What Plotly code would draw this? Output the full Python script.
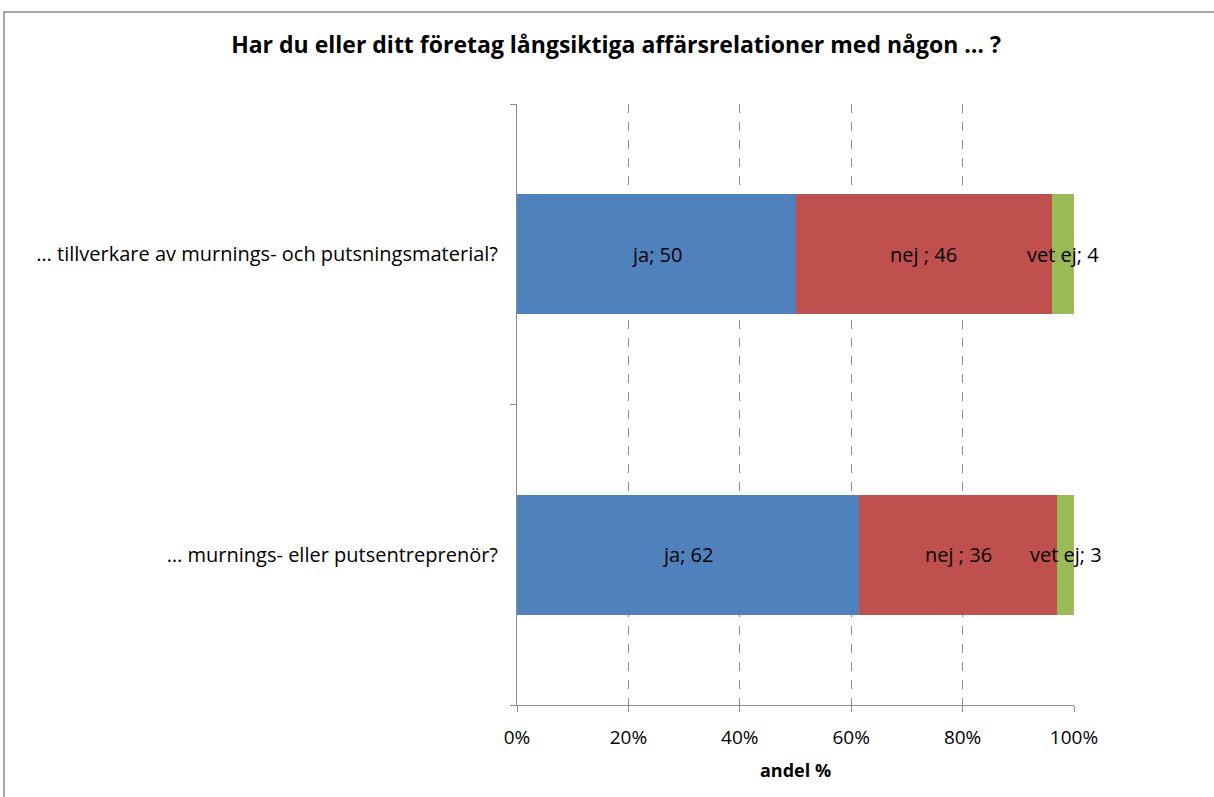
import plotly.graph_objects as go

categories = ["… tillverkare av murnings- och putsningsmaterial?", "… murnings- eller putsentreprenör?"]
series_names = ["ja", "nej ", "vet ej"]
ja = [50, 62]
nej = [46, 36]
vet_ej = [4, 3]
colors = ["#4F81BD", "#C0504D", "#9BBB59"]
x_ticks = [0, 20, 40, 60, 80, 100]
x_tick_labels = ["0%", "20%", "40%", "60%", "80%", "100%"]

series = [ja, nej, vet_ej]
font_family = "Open Sans"

fig = go.Figure()
for name, vals, col in zip(series_names, series, colors):
    fig.add_trace(go.Bar(
        y=categories, x=vals, name=name, orientation="h",
        marker=dict(color=col, line=dict(width=0)),
        showlegend=False, hoverinfo="x+y+name",
    ))

# data labels centred on each normalised segment
annotations = []
for i, cat in enumerate(categories):
    total = sum(s[i] for s in series)
    cum = 0
    for name, vals in zip(series_names, series):
        pct = vals[i] / total * 100
        mid = cum + pct / 2
        cum += pct
        annotations.append(dict(
            x=mid, y=cat, xref="x", yref="y", text=f"{name}; {vals[i]}",
            showarrow=False, font=dict(family=font_family, size=20, color="#000000"),
        ))

L, R, T, B = 517, 140, 104, 92
W, H = 1214, 797
pw, ph = W - L - R, H - T - B

annotations.append(dict(
    text="<b>andel %</b>", x=0.5, y=-(770 - (T + ph)) / ph, xref="paper", yref="paper",
    showarrow=False, font=dict(family=font_family, size=18, color="#000000"),
    xanchor="center", yanchor="middle",
))

fig.update_layout(
    width=W, height=H,
    barmode="stack", barnorm="percent", bargap=0.6,
    plot_bgcolor="white", paper_bgcolor="white",
    margin=dict(l=L, r=R, t=T, b=B, autoexpand=False),
    title=dict(
        text="<b>Har du eller ditt företag långsiktiga affärsrelationer med någon … ?</b>",
        x=616 / W, xanchor="center", y=1 - 45 / H, yanchor="middle",
        font=dict(family=font_family, size=23, color="#000000"),
    ),
    font=dict(family=font_family, size=19, color="#000000"),
    xaxis=dict(
        range=[0, 100], tickvals=x_ticks, ticktext=x_tick_labels,
        showgrid=True, gridcolor="#8c8c8c", griddash="dash", gridwidth=1,
        zeroline=False, showline=True, linecolor="#8c8c8c", linewidth=1,
        ticks="outside", ticklen=6, tickcolor="#8c8c8c",
        ticklabelstandoff=9,
        tickfont=dict(family=font_family, size=19, color="#000000"),
        fixedrange=True,
    ),
    yaxis=dict(
        categoryorder="array", categoryarray=categories[::-1],
        showgrid=False, zeroline=False, showline=True, linecolor="#8c8c8c", linewidth=1,
        ticks="outside", ticklen=6, tickcolor="#8c8c8c", tickson="boundaries",
        ticklabelstandoff=14,
        tickfont=dict(family=font_family, size=20, color="#000000"),
        fixedrange=True,
    ),
    annotations=annotations,
    shapes=[dict(
        type="rect", xref="paper", yref="paper",
        x0=(4 - L) / pw, x1=(W + 5 - L) / pw,
        y0=-(H + 5 - (T + ph)) / ph, y1=1 + (T - 12) / ph,
        line=dict(color="#8c8c8c", width=1.5), fillcolor="rgba(0,0,0,0)", layer="below",
    )],
)

fig.write_html(
    "out.html",
    config={"displayModeBar": False},
    post_script="document.body.style.margin='0';document.body.style.overflow='hidden';",
)
